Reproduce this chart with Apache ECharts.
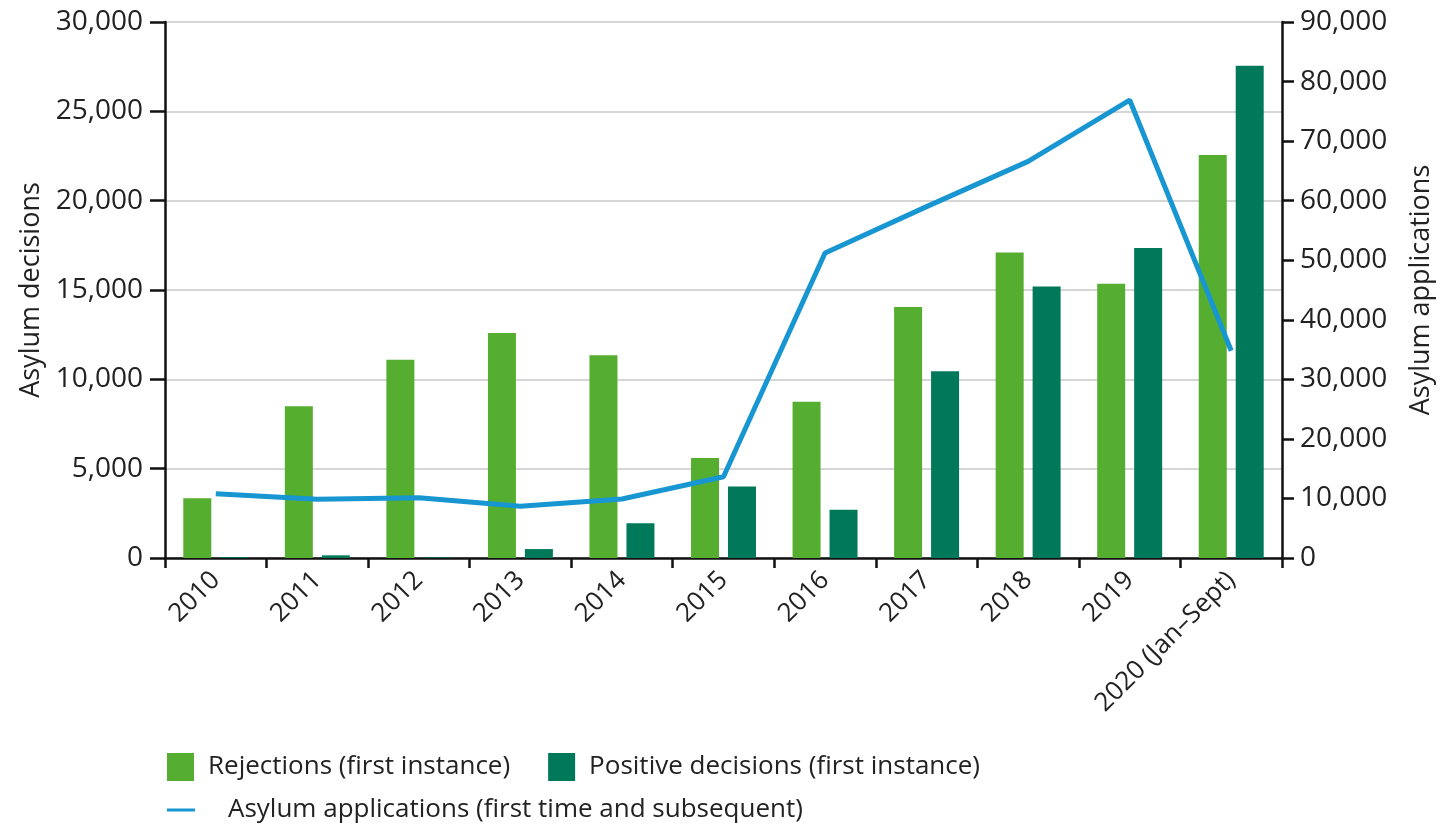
<!DOCTYPE html>
<html>
<head>
<meta charset="utf-8">
<script src="https://cdn.jsdelivr.net/npm/echarts@6/dist/echarts.min.js"></script>
<style>
    html, body { margin: 0; padding: 0; background: #fff; }
    #chart { width: 1443px; height: 828px; }
</style>
</head>
<body>
<div id="chart"></div>
<script>
    // data
    const years = ['2010', '2011', '2012', '2013', '2014', '2015', '2016', '2017', '2018', '2019', '2020 (Jan–Sept)'];
    const rejections = [3350, 8500, 11100, 12600, 11350, 5600, 8750, 14050, 17100, 15350, 22550];
    const positives = [50, 150, 30, 500, 1950, 4000, 2700, 10450, 15200, 17350, 27550];
    const applications = [10800, 9850, 10100, 8700, 9900, 13650, 51200, 59000, 66600, 76900, 34800];

    const leftTicks = { min: 0, max: 30000, interval: 5000 };
    const rightTicks = { min: 0, max: 90000, interval: 10000 };

    const font = 'Open Sans';
    const fmt = v => v.toLocaleString('en-US');

    let chart = echarts.init(document.getElementById('chart'));
    let option = {
        animation: false,
        textStyle: { fontFamily: font, color: '#222' },
        grid: { left: 165, right: 158, top: 22, bottom: 270 },
        legend: [
            {
                left: 162, top: 748,
                itemWidth: 27, itemHeight: 28, itemGap: 38,
                icon: 'rect',
                textStyle: { fontFamily: font, fontSize: 26, color: '#222', padding: [0, 0, 0, 9] },
                data: ['Rejections (first instance)', 'Positive decisions (first instance)']
            },
            {
                left: 162, top: 792,
                itemWidth: 28, itemHeight: 3,
                icon: 'rect',
                textStyle: { fontFamily: font, fontSize: 26, color: '#222', padding: [0, 0, 0, 28] },
                data: ['Asylum applications (first time and subsequent)']
            }
        ],
        xAxis: {
            type: 'category',
            data: years,
            axisLine: { lineStyle: { color: '#111', width: 2.5 } },
            axisTick: { show: true, length: 10, lineStyle: { color: '#111', width: 2.5 } },
            axisLabel: { rotate: 45, margin: 18, fontFamily: font, fontSize: 26, color: '#222' }
        },
        yAxis: [
            {
                type: 'value',
                min: leftTicks.min, max: leftTicks.max, interval: leftTicks.interval,
                name: 'Asylum decisions',
                nameLocation: 'middle', nameGap: 118, nameRotate: 90,
                nameTextStyle: { fontFamily: font, fontSize: 27, color: '#222' },
                axisLine: { show: true, lineStyle: { color: '#111', width: 2.5 } },
                axisTick: { show: true, length: 15, lineStyle: { color: '#111', width: 2.5 } },
                axisLabel: { margin: 22, fontFamily: font, fontSize: 28, color: '#222', formatter: fmt },
                splitLine: { show: true, lineStyle: { color: '#c8c8c8', width: 1.5 } }
            },
            {
                type: 'value',
                min: rightTicks.min, max: rightTicks.max, interval: rightTicks.interval,
                name: 'Asylum applications',
                nameLocation: 'middle', nameGap: 126, nameRotate: 90,
                nameTextStyle: { fontFamily: font, fontSize: 27, color: '#222' },
                position: 'right',
                axisLine: { show: true, lineStyle: { color: '#111', width: 2.5 } },
                axisTick: { show: true, length: 12, lineStyle: { color: '#111', width: 2.5 } },
                axisLabel: { margin: 18, fontFamily: font, fontSize: 28, color: '#222', formatter: fmt },
                splitLine: { show: false }
            }
        ],
        series: [
            {
                name: 'Rejections (first instance)',
                type: 'bar',
                yAxisIndex: 0,
                barWidth: 28,
                barGap: '32%',
                itemStyle: { color: '#55ae2f' },
                data: rejections
            },
            {
                name: 'Positive decisions (first instance)',
                type: 'bar',
                yAxisIndex: 0,
                barWidth: 28,
                barGap: '32%',
                itemStyle: { color: '#00795a' },
                data: positives
            },
            {
                name: 'Asylum applications (first time and subsequent)',
                type: 'line',
                yAxisIndex: 1,
                symbol: 'none',
                lineStyle: { color: '#1896d2', width: 5 },
                itemStyle: { color: '#1896d2' },
                data: applications
            }
        ]
    };
    chart.setOption(option);
    window.addEventListener('resize', function () {
        chart.resize();
    });
</script>
</body>
</html>
